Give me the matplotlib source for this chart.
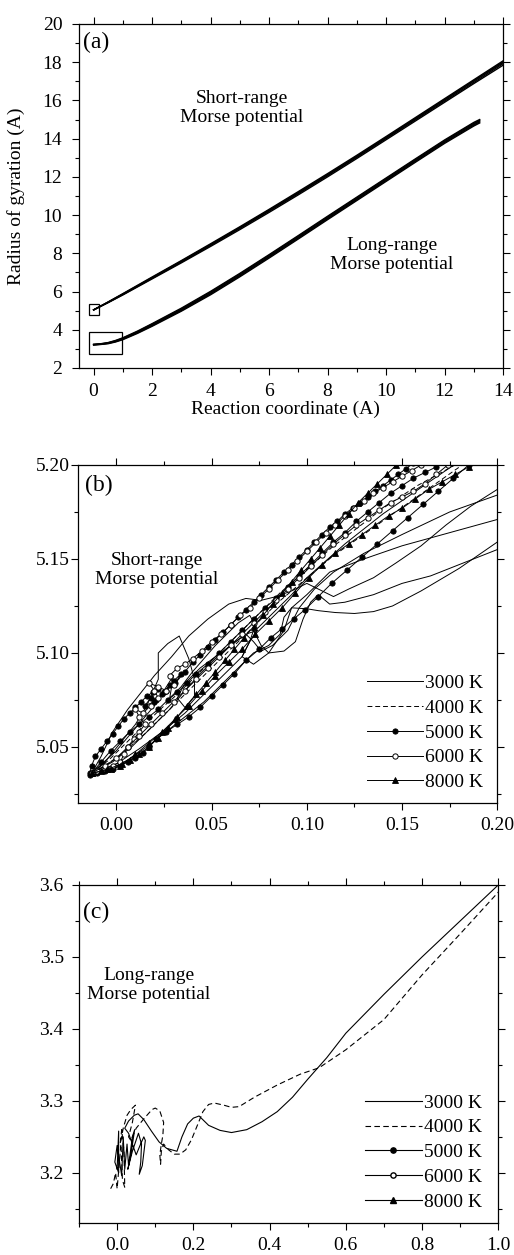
import matplotlib
matplotlib.use('Agg')
import matplotlib.pyplot as plt
from matplotlib.patches import Rectangle
from matplotlib.ticker import MultipleLocator, FormatStrFormatter

plt.rcParams['font.family'] = ['Liberation Serif', 'DejaVu Serif']
plt.rcParams['font.size'] = 14

# ---------------- panel (a) data ----------------
x_short = [0, 0.5, 1, 2, 3, 4, 5, 6, 7, 8, 9, 10, 11, 12, 13, 14]
sr_3000 = [5.04, 5.42, 5.82, 6.66, 7.50, 8.36, 9.24, 10.14, 11.06, 12.00, 12.96, 13.94, 14.92, 15.90, 16.88, 17.84]
sr_4000 = [5.04, 5.43, 5.84, 6.69, 7.54, 8.41, 9.30, 10.20, 11.12, 12.06, 13.02, 14.00, 14.98, 15.96, 16.94, 17.92]
sr_5000 = [5.04, 5.45, 5.87, 6.73, 7.59, 8.46, 9.35, 10.26, 11.18, 12.12, 13.08, 14.06, 15.05, 16.04, 17.03, 18.02]
sr_6000 = [5.04, 5.46, 5.89, 6.76, 7.62, 8.50, 9.39, 10.30, 11.23, 12.17, 13.13, 14.11, 15.10, 16.09, 17.08, 18.07]
sr_8000 = [5.04, 5.44, 5.86, 6.71, 7.57, 8.44, 9.33, 10.24, 11.16, 12.10, 13.06, 14.04, 15.03, 16.02, 17.01, 17.98]

x_long = [0, 0.25, 0.5, 0.75, 1, 1.5, 2, 3, 4, 5, 6, 7, 8, 9, 10, 11, 12, 13, 13.2]
lr_3000 = [3.20, 3.23, 3.27, 3.36, 3.48, 3.81, 4.18, 4.97, 5.83, 6.77, 7.75, 8.75, 9.76, 10.76, 11.76, 12.76, 13.75, 14.66, 14.82]
lr_4000 = [3.21, 3.24, 3.29, 3.38, 3.51, 3.84, 4.22, 5.01, 5.88, 6.82, 7.80, 8.80, 9.81, 10.81, 11.81, 12.81, 13.80, 14.71, 14.87]
lr_5000 = [3.22, 3.25, 3.30, 3.40, 3.53, 3.87, 4.25, 5.05, 5.92, 6.86, 7.84, 8.84, 9.85, 10.85, 11.85, 12.85, 13.84, 14.76, 14.92]
lr_6000 = [3.23, 3.26, 3.32, 3.42, 3.56, 3.90, 4.29, 5.09, 5.97, 6.91, 7.89, 8.89, 9.90, 10.90, 11.90, 12.90, 13.89, 14.81, 14.96]
lr_8000 = [3.24, 3.27, 3.33, 3.44, 3.58, 3.93, 4.32, 5.13, 6.01, 6.95, 7.93, 8.93, 9.94, 10.94, 11.94, 12.94, 13.93, 14.85, 15.00]

# zoom windows marked in panel (a): x0, y0, width, height
box_short = [-0.17, 4.79, 0.34, 0.56]
box_long = [-0.17, 2.75, 1.14, 1.12]

# ---------------- panel (b) data ----------------
b3000_x = [
    [-0.013, -0.008, -0.002, 0.006, 0.013, 0.020, 0.029, 0.038, 0.048, 0.059, 0.068, 0.076, 0.084, 0.092, 0.100, 0.108, 0.114, 0.122, 0.135, 0.147, 0.160, 0.173, 0.186, 0.200],
    [-0.013, -0.006, 0.002, 0.010, 0.016, 0.022, 0.022, 0.027, 0.033, 0.038, 0.041, 0.041, 0.036, 0.032, 0.036, 0.044, 0.052, 0.060, 0.068, 0.072, 0.076, 0.082, 0.090, 0.096, 0.104, 0.114, 0.130, 0.150, 0.175, 0.200],
    [-0.013, -0.002, 0.008, 0.018, 0.028, 0.036, 0.044, 0.052, 0.060, 0.068, 0.074, 0.070, 0.066, 0.072, 0.080, 0.088, 0.092, 0.100, 0.112, 0.130, 0.150, 0.175, 0.200],
    [-0.013, -0.004, 0.006, 0.016, 0.026, 0.036, 0.046, 0.056, 0.064, 0.072, 0.080, 0.086, 0.088, 0.092, 0.100, 0.106, 0.115, 0.125, 0.135, 0.145, 0.160, 0.180, 0.200],
    [-0.013, 0.000, 0.012, 0.024, 0.036, 0.048, 0.058, 0.066, 0.070, 0.072, 0.076, 0.080, 0.088, 0.094, 0.098, 0.102, 0.106, 0.112, 0.120, 0.135, 0.150, 0.165, 0.180, 0.200],
    [-0.013, 0.000, 0.010, 0.020, 0.025, 0.030, 0.028, 0.034, 0.040, 0.046, 0.052, 0.058, 0.064, 0.070, 0.074, 0.079, 0.085, 0.092, 0.100, 0.110, 0.120, 0.130, 0.140, 0.150, 0.160, 0.170, 0.180],
]
b3000_y = [
    [5.036, 5.045, 5.058, 5.070, 5.079, 5.088, 5.098, 5.109, 5.118, 5.126, 5.129, 5.128, 5.130, 5.133, 5.137, 5.133, 5.130, 5.134, 5.140, 5.148, 5.157, 5.168, 5.178, 5.187],
    [5.036, 5.042, 5.052, 5.062, 5.072, 5.086, 5.100, 5.105, 5.109, 5.097, 5.086, 5.077, 5.071, 5.076, 5.084, 5.092, 5.098, 5.104, 5.110, 5.106, 5.101, 5.104, 5.112, 5.124, 5.134, 5.143, 5.153, 5.163, 5.175, 5.184],
    [5.036, 5.042, 5.050, 5.060, 5.070, 5.080, 5.089, 5.097, 5.104, 5.110, 5.112, 5.106, 5.098, 5.094, 5.100, 5.112, 5.124, 5.131, 5.143, 5.150, 5.157, 5.164, 5.171],
    [5.036, 5.038, 5.043, 5.050, 5.058, 5.066, 5.074, 5.084, 5.092, 5.100, 5.104, 5.110, 5.119, 5.124, 5.1235, 5.1225, 5.1215, 5.121, 5.122, 5.125, 5.133, 5.145, 5.159],
    [5.036, 5.041, 5.049, 5.058, 5.068, 5.080, 5.090, 5.098, 5.106, 5.112, 5.104, 5.100, 5.101, 5.106, 5.118, 5.127, 5.131, 5.126, 5.127, 5.131, 5.137, 5.141, 5.147, 5.155],
    [5.036, 5.048, 5.060, 5.072, 5.080, 5.088, 5.076, 5.082, 5.090, 5.097, 5.104, 5.110, 5.116, 5.120, 5.113, 5.118, 5.124, 5.131, 5.140, 5.149, 5.158, 5.166, 5.174, 5.181, 5.188, 5.195, 5.202],
]

b4000_x = [
    [-0.013, -0.006, 0.001, 0.008, 0.015, 0.022, 0.029, 0.036, 0.043, 0.050, 0.057, 0.064, 0.071, 0.078, 0.085, 0.092, 0.099, 0.106, 0.113, 0.120, 0.127, 0.134, 0.141, 0.148, 0.155, 0.162, 0.169, 0.176, 0.183],
    [-0.013, -0.004, 0.005, 0.014, 0.023, 0.032, 0.041, 0.050, 0.059, 0.068, 0.077, 0.086, 0.095, 0.104, 0.113, 0.122, 0.131, 0.140, 0.149, 0.158, 0.167, 0.176, 0.185, 0.194],
]
b4000_y = [
    [5.036, 5.040, 5.045, 5.051, 5.057, 5.064, 5.071, 5.078, 5.085, 5.092, 5.099, 5.106, 5.113, 5.120, 5.127, 5.133, 5.139, 5.145, 5.151, 5.156, 5.161, 5.166, 5.171, 5.176, 5.181, 5.186, 5.191, 5.196, 5.201],
    [5.036, 5.043, 5.052, 5.061, 5.070, 5.078, 5.087, 5.096, 5.105, 5.114, 5.123, 5.132, 5.140, 5.148, 5.156, 5.163, 5.170, 5.177, 5.183, 5.189, 5.194, 5.199, 5.204, 5.208],
]

b5000_x = [
    [-0.014, -0.013, -0.011, -0.008, -0.005, -0.002, 0.001, 0.004, 0.007, 0.010, 0.013, 0.016, 0.019, 0.022, 0.018, 0.015, 0.020, 0.024, 0.028, 0.025, 0.021, 0.026, 0.030, 0.034, 0.031, 0.036, 0.040, 0.044, 0.048, 0.052, 0.056, 0.060, 0.064, 0.068, 0.072, 0.076, 0.080, 0.084, 0.088, 0.092, 0.096, 0.100, 0.104, 0.108, 0.112, 0.116, 0.120, 0.124, 0.128, 0.132, 0.136, 0.140, 0.144, 0.148, 0.152, 0.156],
    [-0.014, -0.010, -0.006, -0.002, 0.002, 0.006, 0.010, 0.014, 0.017, 0.021, 0.026, 0.032, 0.038, 0.044, 0.050, 0.056, 0.062, 0.068, 0.075, 0.081, 0.087, 0.093, 0.099, 0.106, 0.113, 0.121, 0.129, 0.137, 0.145, 0.153, 0.161, 0.169, 0.177, 0.185],
    [-0.013, -0.008, -0.003, 0.002, 0.007, 0.012, 0.017, 0.022, 0.027, 0.032, 0.037, 0.042, 0.048, 0.054, 0.060, 0.066, 0.072, 0.078, 0.084, 0.090, 0.096, 0.102, 0.108, 0.114, 0.120, 0.126, 0.132, 0.138, 0.144, 0.150, 0.156, 0.162, 0.168, 0.174],
]
b5000_y = [
    [5.036, 5.040, 5.045, 5.049, 5.053, 5.057, 5.061, 5.065, 5.068, 5.071, 5.074, 5.077, 5.079, 5.081, 5.076, 5.072, 5.074, 5.078, 5.083, 5.079, 5.075, 5.080, 5.085, 5.089, 5.084, 5.090, 5.095, 5.099, 5.103, 5.107, 5.111, 5.115, 5.119, 5.123, 5.127, 5.131, 5.135, 5.139, 5.143, 5.147, 5.151, 5.155, 5.159, 5.163, 5.167, 5.170, 5.174, 5.177, 5.180, 5.183, 5.186, 5.189, 5.192, 5.195, 5.198, 5.201],
    [5.035, 5.036, 5.037, 5.038, 5.040, 5.042, 5.044, 5.047, 5.050, 5.054, 5.058, 5.062, 5.066, 5.071, 5.077, 5.083, 5.089, 5.096, 5.102, 5.108, 5.113, 5.118, 5.123, 5.130, 5.137, 5.144, 5.151, 5.158, 5.165, 5.172, 5.179, 5.186, 5.193, 5.200],
    [5.036, 5.042, 5.048, 5.053, 5.058, 5.062, 5.066, 5.070, 5.075, 5.079, 5.084, 5.089, 5.094, 5.100, 5.106, 5.112, 5.118, 5.124, 5.129, 5.135, 5.141, 5.147, 5.153, 5.159, 5.164, 5.170, 5.175, 5.180, 5.185, 5.189, 5.193, 5.196, 5.199, 5.202],
]

b6000_x = [
    [-0.013, -0.010, -0.006, -0.002, 0.002, 0.004, 0.006, 0.009, 0.012, 0.015, 0.012, 0.010, 0.014, 0.018, 0.022, 0.020, 0.017, 0.022, 0.026, 0.030, 0.028, 0.032, 0.036, 0.040, 0.045, 0.050, 0.055, 0.060, 0.065, 0.070, 0.075, 0.080, 0.085, 0.090, 0.095, 0.100, 0.105, 0.110, 0.115, 0.120, 0.125, 0.130, 0.135, 0.140, 0.145, 0.150, 0.155, 0.160, 0.165],
    [-0.013, -0.006, 0.000, 0.006, 0.012, 0.018, 0.024, 0.030, 0.036, 0.042, 0.048, 0.054, 0.060, 0.066, 0.072, 0.078, 0.084, 0.090, 0.096, 0.102, 0.108, 0.114, 0.120, 0.126, 0.132, 0.138, 0.144, 0.150, 0.156, 0.162, 0.168, 0.174],
]
b6000_y = [
    [5.036, 5.037, 5.038, 5.040, 5.042, 5.046, 5.050, 5.054, 5.058, 5.062, 5.066, 5.070, 5.068, 5.072, 5.076, 5.080, 5.084, 5.082, 5.080, 5.083, 5.088, 5.092, 5.094, 5.097, 5.101, 5.106, 5.110, 5.115, 5.120, 5.124, 5.129, 5.134, 5.139, 5.144, 5.149, 5.154, 5.159, 5.164, 5.168, 5.173, 5.177, 5.181, 5.185, 5.188, 5.191, 5.194, 5.197, 5.200, 5.203],
    [5.036, 5.040, 5.044, 5.050, 5.056, 5.062, 5.068, 5.074, 5.080, 5.086, 5.092, 5.098, 5.104, 5.110, 5.116, 5.122, 5.128, 5.134, 5.140, 5.146, 5.152, 5.158, 5.163, 5.168, 5.172, 5.176, 5.180, 5.183, 5.186, 5.190, 5.195, 5.200],
]

b8000_x = [
    [-0.013, -0.008, -0.003, 0.002, 0.007, 0.012, 0.017, 0.022, 0.027, 0.032, 0.037, 0.042, 0.047, 0.052, 0.057, 0.062, 0.067, 0.072, 0.077, 0.082, 0.087, 0.092, 0.097, 0.102, 0.107, 0.112, 0.117, 0.122, 0.127, 0.132, 0.137, 0.142, 0.147],
    [-0.013, -0.005, 0.003, 0.010, 0.017, 0.024, 0.031, 0.038, 0.045, 0.052, 0.059, 0.066, 0.073, 0.080, 0.087, 0.094, 0.101, 0.108, 0.115, 0.122, 0.129, 0.136, 0.143, 0.150, 0.157, 0.164, 0.171, 0.178, 0.185],
]
b8000_y = [
    [5.036, 5.037, 5.038, 5.040, 5.043, 5.046, 5.050, 5.055, 5.060, 5.066, 5.072, 5.078, 5.084, 5.090, 5.096, 5.102, 5.108, 5.114, 5.120, 5.126, 5.132, 5.138, 5.144, 5.150, 5.156, 5.162, 5.168, 5.174, 5.180, 5.185, 5.190, 5.195, 5.200],
    [5.036, 5.038, 5.041, 5.046, 5.052, 5.058, 5.065, 5.072, 5.080, 5.088, 5.095, 5.102, 5.110, 5.117, 5.124, 5.132, 5.140, 5.147, 5.153, 5.158, 5.163, 5.168, 5.173, 5.177, 5.182, 5.187, 5.191, 5.195, 5.199],
]

# ---------------- panel (c) data ----------------
c3000_x = [0.000, 0.004, 0.004, -0.006, 0.000, 0.012, 0.016, 0.020, 0.026, 0.030, 0.040, 0.046, 0.036, 0.028, 0.040, 0.056, 0.064, 0.062, 0.058, 0.066, 0.074, 0.070, 0.060, 0.050, 0.040, 0.030, 0.020, 0.030, 0.045, 0.055, 0.070, 0.090, 0.110, 0.130, 0.157, 0.170, 0.185, 0.200, 0.215, 0.240, 0.270, 0.300, 0.340, 0.380, 0.420, 0.460, 0.500, 0.550, 0.600, 0.700, 0.800, 0.900, 1.000]
c3000_y = [3.205, 3.258, 3.200, 3.215, 3.238, 3.196, 3.250, 3.205, 3.240, 3.210, 3.250, 3.260, 3.225, 3.205, 3.230, 3.255, 3.240, 3.215, 3.198, 3.210, 3.245, 3.250, 3.238, 3.225, 3.240, 3.255, 3.262, 3.272, 3.280, 3.282, 3.274, 3.258, 3.243, 3.234, 3.230, 3.250, 3.268, 3.276, 3.279, 3.266, 3.259, 3.256, 3.260, 3.271, 3.285, 3.305, 3.330, 3.360, 3.394, 3.448, 3.500, 3.550, 3.600]
c4000_x = [-0.017, -0.010, -0.004, 0.000, 0.006, 0.010, 0.014, 0.020, 0.018, 0.012, 0.008, 0.016, 0.026, 0.036, 0.048, 0.040, 0.030, 0.036, 0.050, 0.070, 0.085, 0.092, 0.100, 0.112, 0.122, 0.120, 0.116, 0.112, 0.114, 0.116, 0.122, 0.135, 0.150, 0.165, 0.180, 0.195, 0.212, 0.225, 0.240, 0.255, 0.280, 0.300, 0.320, 0.360, 0.420, 0.480, 0.530, 0.600, 0.700, 0.800, 0.900, 1.000]
c4000_y = [3.178, 3.185, 3.200, 3.178, 3.215, 3.240, 3.190, 3.180, 3.230, 3.260, 3.240, 3.262, 3.280, 3.288, 3.294, 3.270, 3.250, 3.245, 3.262, 3.275, 3.284, 3.288, 3.290, 3.286, 3.270, 3.252, 3.240, 3.225, 3.212, 3.230, 3.240, 3.232, 3.226, 3.226, 3.232, 3.246, 3.268, 3.285, 3.295, 3.297, 3.294, 3.291, 3.292, 3.305, 3.322, 3.337, 3.346, 3.371, 3.413, 3.475, 3.532, 3.590]

labels = ['3000 K', '4000 K', '5000 K', '6000 K', '8000 K']


def arruma_ticks(ax, xmaj, xmin, ymaj, ymin, xpad, ypad):
    ax.xaxis.set_major_locator(MultipleLocator(xmaj))
    ax.xaxis.set_minor_locator(MultipleLocator(xmin))
    ax.yaxis.set_major_locator(MultipleLocator(ymaj))
    ax.yaxis.set_minor_locator(MultipleLocator(ymin))
    ax.tick_params(which='both', direction='out', top=True, right=True, width=0.8, labelsize=14)
    ax.tick_params(which='major', length=5)
    ax.tick_params(which='minor', length=3)
    ax.tick_params(axis='x', pad=xpad)
    ax.tick_params(axis='y', pad=ypad)
    for s in ax.spines.values():
        s.set_linewidth(0.9)


fig = plt.figure(figsize=(5.14, 12.55), dpi=100)
ax1 = fig.add_axes([0.1537, 0.7068, 0.8250, 0.2741])
ax2 = fig.add_axes([0.1523, 0.3599, 0.8152, 0.2696])
ax3 = fig.add_axes([0.1537, 0.0253, 0.8158, 0.2696])

# panel (a)
for serie in [sr_3000, sr_4000, sr_5000, sr_6000, sr_8000]:
    ax1.plot(x_short, serie, color='black', lw=1.0)
for serie in [lr_3000, lr_4000, lr_5000, lr_6000, lr_8000]:
    ax1.plot(x_long, serie, color='black', lw=1.0)
ax1.add_patch(Rectangle((box_short[0], box_short[1]), box_short[2], box_short[3], fill=False, lw=0.9, ec='black'))
ax1.add_patch(Rectangle((box_long[0], box_long[1]), box_long[2], box_long[3], fill=False, lw=0.9, ec='black'))
ax1.set_xlim(-0.5, 14)
ax1.set_ylim(2, 20)
arruma_ticks(ax1, 2, 1, 2, 1, 6, 7)
ax1.set_xlabel('Reaction coordinate (A)', fontsize=14)
ax1.set_ylabel('Radius of gyration (A)', fontsize=14)
ax1.xaxis.label.set_va('center')
ax1.yaxis.label.set_va('center')
ax1.xaxis.set_label_coords(0.487, -0.121)
ax1.yaxis.set_label_coords(-0.149, 0.5)
ax1.text(0.01, 0.945, '(a)', transform=ax1.transAxes, fontsize=17, va='center', ha='left')
fig.text(242 / 514, 1 - 108 / 1255, 'Short-range\nMorse potential', ha='center', va='center', fontsize=14)
fig.text(392 / 514, 1 - 255 / 1255, 'Long-range\nMorse potential', ha='center', va='center', fontsize=14)

# panel (b)
lw_b = 0.7
ms_b = 3.8
for i in range(len(b3000_x)):
    ax2.plot(b3000_x[i], b3000_y[i], color='black', lw=lw_b, label=labels[0] if i == 0 else None)
for i in range(len(b4000_x)):
    ax2.plot(b4000_x[i], b4000_y[i], color='black', lw=lw_b, ls=(0, (5, 3)), label=labels[1] if i == 0 else None)
for i in range(len(b5000_x)):
    ax2.plot(b5000_x[i], b5000_y[i], color='black', lw=lw_b, marker='o', ms=ms_b, mfc='black', mec='black', mew=0.6,
             label=labels[2] if i == 0 else None)
for i in range(len(b6000_x)):
    ax2.plot(b6000_x[i], b6000_y[i], color='black', lw=lw_b, marker='o', ms=ms_b, mfc='white', mec='black', mew=0.7,
             label=labels[3] if i == 0 else None)
for i in range(len(b8000_x)):
    ax2.plot(b8000_x[i], b8000_y[i], color='black', lw=lw_b, marker='^', ms=ms_b, mfc='black', mec='black', mew=0.6,
             label=labels[4] if i == 0 else None)
ax2.set_xlim(-0.02, 0.20)
ax2.set_ylim(5.02, 5.20)
arruma_ticks(ax2, 0.05, 0.025, 0.05, 0.025, 5, 1)
ax2.xaxis.set_major_formatter(FormatStrFormatter('%.2f'))
ax2.yaxis.set_major_formatter(FormatStrFormatter('%.2f'))
ax2.text(0.015, 0.94, '(b)', transform=ax2.transAxes, fontsize=17, va='center', ha='left')
fig.text(157 / 514, 1 - 570 / 1255, 'Short-range\nMorse potential', ha='center', va='center', fontsize=14)
ax2.legend(loc='lower right', bbox_to_anchor=(0.966, 0.036), frameon=False, fontsize=14,
           handlelength=2.9, handletextpad=0.1, labelspacing=0.37, borderpad=0, borderaxespad=0)

# panel (c)
ax3.plot(c3000_x, c3000_y, color='black', lw=0.8, label=labels[0])
ax3.plot(c4000_x, c4000_y, color='black', lw=0.8, ls=(0, (5, 3)), label=labels[1])
ax3.plot([], [], color='black', lw=0.8, marker='o', ms=ms_b, mfc='black', mec='black', label=labels[2])
ax3.plot([], [], color='black', lw=0.8, marker='o', ms=ms_b, mfc='white', mec='black', label=labels[3])
ax3.plot([], [], color='black', lw=0.8, marker='^', ms=ms_b, mfc='black', mec='black', label=labels[4])
ax3.set_xlim(-0.1, 1.0)
ax3.set_ylim(3.13, 3.6)
arruma_ticks(ax3, 0.2, 0.1, 0.1, 0.05, 5, 6)
ax3.xaxis.set_major_formatter(FormatStrFormatter('%.1f'))
ax3.yaxis.set_major_formatter(FormatStrFormatter('%.1f'))
ax3.text(0.01, 0.92, '(c)', transform=ax3.transAxes, fontsize=17, va='center', ha='left')
fig.text(149 / 514, 1 - 985 / 1255, 'Long-range\nMorse potential', ha='center', va='center', fontsize=14)
ax3.legend(loc='lower right', bbox_to_anchor=(0.960, 0.037), frameon=False, fontsize=14,
           handlelength=2.9, handletextpad=0.1, labelspacing=0.37, borderpad=0, borderaxespad=0)

plt.savefig('out.png', dpi=100)
